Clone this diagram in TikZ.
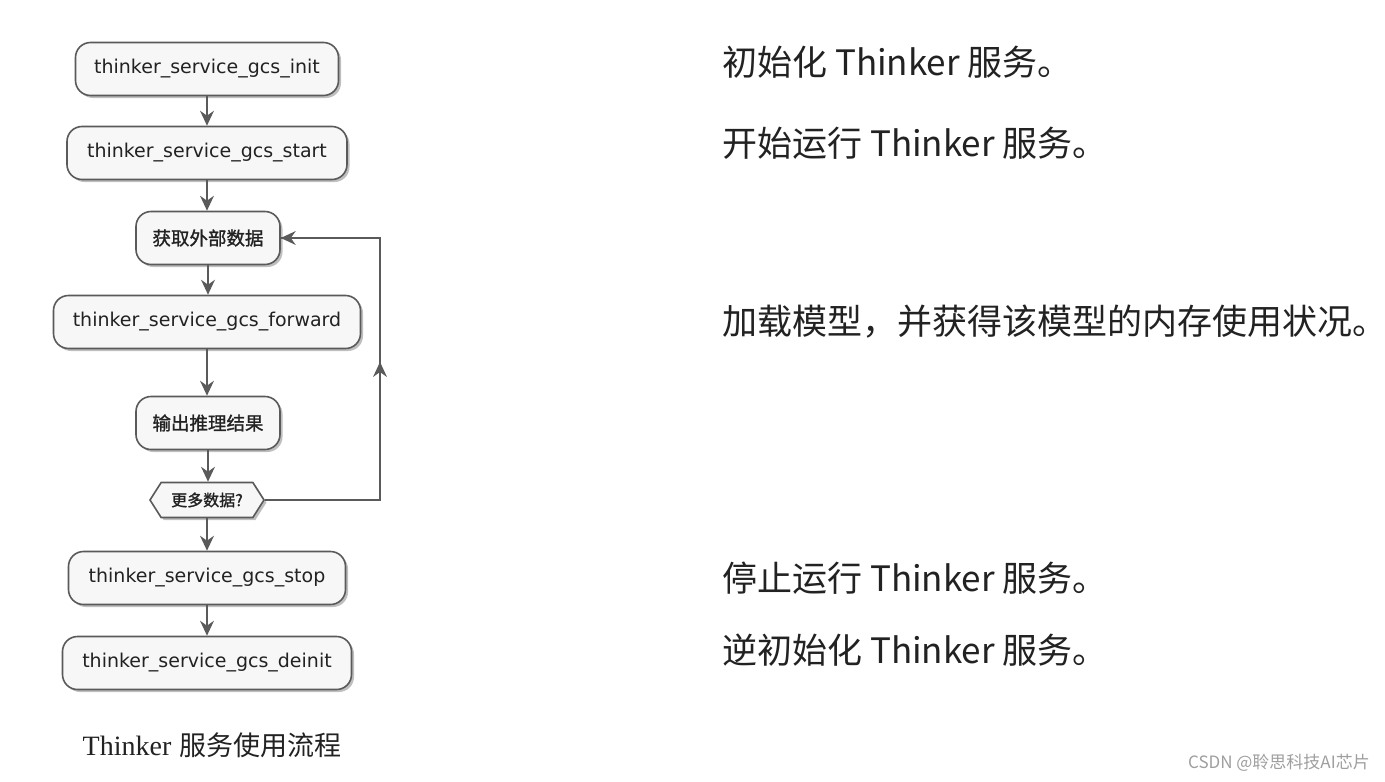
\documentclass[tikz,border=0pt]{standalone}
\usepackage{fontspec}
\setmainfont{DejaVu Sans}
\newfontfamily\cjk{Noto Sans CJK SC}
\newfontfamily\cjkb[FakeBold=1.3]{Noto Sans CJK SC}
\newfontfamily\lat{DejaVu Sans}
\newfontfamily\serifl{Liberation Serif}
\usetikzlibrary{shadows,shapes.symbols}
\definecolor{edgec}{HTML}{5A5A5A}
\definecolor{boxfill}{HTML}{F7F7F7}
\definecolor{txt}{HTML}{222222}
\tikzset{
  stepbox/.style={draw=edgec, line width=1.6pt, fill=boxfill, rounded corners=15pt,
    minimum height=53pt, inner sep=0pt, text=txt,
    drop shadow={shadow xshift=2.5pt, shadow yshift=-2.5pt, opacity=0.25, fill=black}},
  lbl/.style={font=\lat\fontsize{19}{22}\selectfont},
  clbl/.style={font=\cjkb\fontsize{18.5}{22}\selectfont},
  decbox/.style={signal, signal to=east and west, signal pointer angle=115, draw=edgec, line width=1.6pt,
    fill=boxfill, minimum width=114pt, minimum height=35pt, inner sep=0pt, text=txt,
    drop shadow={shadow xshift=2.5pt, shadow yshift=-2.5pt, opacity=0.25, fill=black}},
  flow/.style={draw=edgec, line width=1.6pt},
  flowin/.style={draw=edgec, line width=1.6pt, shorten >=9pt},
  desc/.style={anchor=west, font=\cjk\fontsize{35}{40}\selectfont, text=txt, inner sep=0pt},
}
\newcommand{\arrhead}[2]{\fill[edgec, shift={(#1)}, rotate=#2] (0,0) -- (-15,7) -- (-10,0) -- (-15,-7) -- cycle;}
\begin{document}
\begin{tikzpicture}[x=1pt, y=1pt]
\useasboundingbox[fill=white] (0,0) rectangle (1385,-782);
\node[stepbox, lbl, minimum width=263pt] (init) at (207,-69) {thinker\_service\_gcs\_init};
\node[stepbox, lbl, minimum width=280pt] (start) at (207,-153) {thinker\_service\_gcs\_start};
\node[stepbox, clbl, minimum width=144pt] (fetch) at (208,-238) {获取外部数据};
\node[stepbox, lbl, minimum width=307pt] (fwd) at (207,-322) {thinker\_service\_gcs\_forward};
\node[stepbox, clbl, minimum width=144pt] (out) at (208,-423) {输出推理结果};
\node[decbox, font=\cjkb\fontsize{16}{18}\selectfont] (more) at (207,-500) {更多数据?};
\node[stepbox, lbl, minimum width=277pt] (stop) at (207,-578) {thinker\_service\_gcs\_stop};
\node[stepbox, lbl, minimum width=289pt] (deinit) at (207,-663) {thinker\_service\_gcs\_deinit};

\draw[flowin] (init.south) -- (init.south |- start.north);
\arrhead{init.south |- start.north}{-90}
\draw[flowin] (start.south) -- (start.south |- fetch.north);
\arrhead{start.south |- fetch.north}{-90}
\draw[flowin] (fetch.south) -- (fetch.south |- fwd.north);
\arrhead{fetch.south |- fwd.north}{-90}
\draw[flowin] (fwd.south) -- (fwd.south |- out.north);
\arrhead{fwd.south |- out.north}{-90}
\draw[flowin] (out.south) -- (out.south |- more.north);
\arrhead{out.south |- more.north}{-90}
\draw[flowin] (more.south) -- (more.south |- stop.north);
\arrhead{more.south |- stop.north}{-90}
\draw[flowin] (stop.south) -- (stop.south |- deinit.north);
\arrhead{stop.south |- deinit.north}{-90}
\coordinate (lb) at (380,-500);
\coordinate (lm) at (380,-362);
\coordinate (lt) at (380,-238);
\draw[flow] (more.east) -- (lb) -- (lt) -- (fetch.east);
\arrhead{lm}{90}
\arrhead{fetch.east}{180}

\node[inner sep=0pt, text=txt] (cap) at (212,-745) {{\serifl\fontsize{28}{32}\selectfont Thinker}\hspace{8pt}{\cjk\fontsize{27}{32}\selectfont 服务使用流程}};

\node[desc] (d1) at (722,-62) {初始化 Thinker 服务。};
\node[desc] (d2) at (722,-143) {开始运行 Thinker 服务。};
\node[desc] (d3) at (722,-322) {加载模型，并获得该模型的内存使用状况。};
\node[desc] (d4) at (722,-578) {停止运行 Thinker 服务。};
\node[desc] (d5) at (722,-650) {逆初始化 Thinker 服务。};

\node[anchor=east, inner sep=0pt, text=gray!75, font=\cjk\fontsize{17}{20}\selectfont] (wm) at (1370,-763) {CSDN @聆思科技AI芯片};
\end{tikzpicture}
\end{document}
